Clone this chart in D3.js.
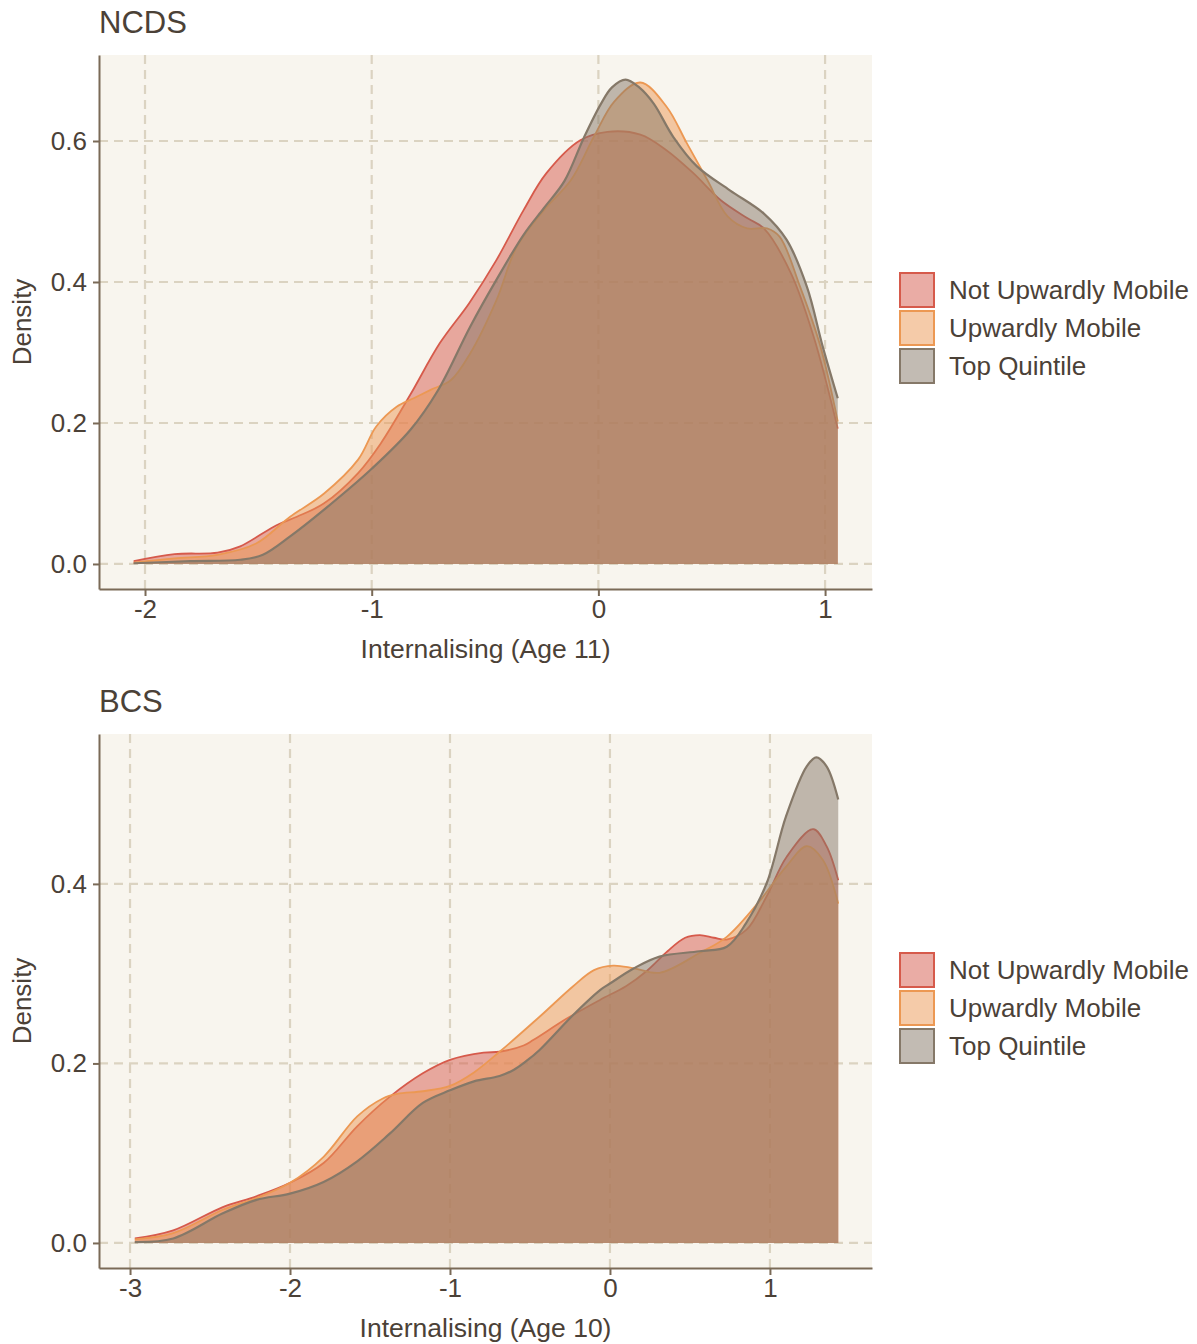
<!DOCTYPE html>
<html>
<head>
<meta charset="utf-8">
<script src="https://cdn.jsdelivr.net/npm/d3@7"></script>
<style>
  body { margin: 0; background: #ffffff; }
  text { font-family: "Liberation Sans", Arial, sans-serif; fill: #4b4137; }
</style>
</head>
<body>
<div id="main"></div>
<script>
const width = 1197;
const height = 1344;

const groups = ["Not Upwardly Mobile", "Upwardly Mobile", "Top Quintile"];

// NCDS densities, [score, density]
const ncdsNotUp = [[-2.05,0.004],[-1.87,0.014],[-1.68,0.016],[-1.58,0.025],[-1.42,0.055],[-1.33,0.067],[-1.21,0.086],[-1.06,0.129],[-0.96,0.171],[-0.83,0.24],[-0.70,0.313],[-0.57,0.37],[-0.45,0.431],[-0.33,0.502],[-0.23,0.554],[-0.08,0.601],[0.04,0.613],[0.185,0.609],[0.30,0.587],[0.42,0.554],[0.54,0.516],[0.66,0.49],[0.73,0.476],[0.85,0.412],[0.95,0.322],[1.056,0.192]];
const ncdsUp = [[-2.05,0.002],[-1.87,0.008],[-1.68,0.013],[-1.51,0.029],[-1.36,0.067],[-1.21,0.1],[-1.06,0.148],[-0.98,0.195],[-0.89,0.223],[-0.815,0.235],[-0.74,0.247],[-0.65,0.261],[-0.565,0.299],[-0.45,0.374],[-0.36,0.45],[-0.24,0.502],[-0.12,0.545],[-0.02,0.606],[0.07,0.656],[0.185,0.683],[0.30,0.649],[0.39,0.597],[0.48,0.545],[0.57,0.493],[0.656,0.476],[0.744,0.476],[0.80,0.464],[0.89,0.393],[0.98,0.308],[1.056,0.202]];
const ncdsTop = [[-2.05,0.001],[-1.80,0.004],[-1.58,0.006],[-1.48,0.013],[-1.36,0.039],[-1.21,0.077],[-1.0,0.135],[-0.83,0.19],[-0.71,0.245],[-0.565,0.337],[-0.45,0.403],[-0.33,0.467],[-0.24,0.505],[-0.15,0.543],[-0.065,0.604],[0.01,0.652],[0.06,0.676],[0.12,0.687],[0.18,0.676],[0.244,0.653],[0.33,0.606],[0.435,0.564],[0.58,0.53],[0.73,0.497],[0.83,0.46],[0.92,0.393],[0.99,0.308],[1.056,0.235]];

// BCS densities
const bcsNotUp = [[-2.97,0.005],[-2.73,0.014],[-2.42,0.04],[-2.21,0.052],[-2.0,0.067],[-1.79,0.089],[-1.58,0.13],[-1.375,0.163],[-1.17,0.189],[-1.0,0.204],[-0.79,0.212],[-0.69,0.213],[-0.54,0.22],[-0.48,0.226],[-0.27,0.25],[-0.06,0.271],[0.10,0.286],[0.23,0.303],[0.36,0.325],[0.47,0.34],[0.5625,0.343],[0.65,0.34],[0.729,0.338],[0.854,0.349],[0.979,0.386],[1.104,0.43],[1.27,0.461],[1.354,0.442],[1.427,0.404]];
const bcsUp = [[-2.97,0.004],[-2.73,0.011],[-2.42,0.037],[-2.21,0.05],[-2.0,0.067],[-1.79,0.096],[-1.58,0.141],[-1.42,0.161],[-1.33,0.166],[-1.17,0.169],[-1.0,0.175],[-0.85,0.19],[-0.69,0.213],[-0.44,0.252],[-0.23,0.286],[-0.10,0.304],[0.02,0.309],[0.15,0.306],[0.31,0.301],[0.56,0.323],[0.73,0.341],[0.94,0.382],[1.10,0.419],[1.23,0.442],[1.33,0.427],[1.427,0.378]];
const bcsTop = [[-2.97,0.001],[-2.73,0.005],[-2.42,0.033],[-2.21,0.048],[-2.0,0.055],[-1.79,0.068],[-1.58,0.091],[-1.375,0.122],[-1.17,0.156],[-1.0,0.17],[-0.85,0.18],[-0.69,0.186],[-0.6,0.193],[-0.52,0.203],[-0.44,0.215],[-0.23,0.254],[-0.06,0.282],[0.0,0.289],[0.15,0.306],[0.31,0.319],[0.56,0.325],[0.73,0.33],[0.85,0.356],[0.98,0.401],[1.10,0.475],[1.23,0.531],[1.29,0.541],[1.354,0.531],[1.427,0.494]];

const ncdsXTicks = [-2, -1, 0, 1];
const ncdsYTicks = [0, 0.2, 0.4, 0.6];
const bcsXTicks = [-3, -2, -1, 0, 1];
const bcsYTicks = [0, 0.2, 0.4];

const colors = ["#d65a4b", "#ec9853", "#857868"];
const panelBg = "#f8f5ee";
const gridColor = "#dbd3c1";
const axisColor = "#7a6a57";

const svg = d3.select("#main")
    .append("svg")
    .attr("width", width)
    .attr("height", height);

function drawPanel(opt) {
    const left = 99, right = 872;
    const top = opt.top, bottom = opt.top + 534;

    const xScale = d3.scaleLinear().domain(opt.xDomain).range([left, right]);
    const yScale = d3.scaleLinear().domain(opt.yDomain).range([bottom, top]);

    svg.append("text")
        .attr("x", left)
        .attr("y", top - 22)
        .style("font-size", "31px")
        .text(opt.title);

    svg.append("rect")
        .attr("x", left).attr("y", top)
        .attr("width", right - left).attr("height", bottom - top)
        .style("fill", panelBg);

    const grid = svg.append("g");
    grid.selectAll("line.v")
        .data(opt.xTicks)
        .enter()
        .append("line")
        .attr("x1", (d) => xScale(d)).attr("x2", (d) => xScale(d))
        .attr("y1", top).attr("y2", bottom);
    grid.selectAll("line.h")
        .data(opt.yTicks)
        .enter()
        .append("line")
        .attr("y1", (d) => yScale(d)).attr("y2", (d) => yScale(d))
        .attr("x1", left).attr("x2", right);
    grid.selectAll("line")
        .style("stroke", gridColor)
        .style("stroke-width", 2.2)
        .style("stroke-dasharray", "9,6");

    const area = d3.area()
        .x((d) => xScale(d[0]))
        .y0(yScale(0))
        .y1((d) => yScale(d[1]))
        .curve(d3.curveCatmullRom.alpha(0.5));
    const line = d3.line()
        .x((d) => xScale(d[0]))
        .y((d) => yScale(d[1]))
        .curve(d3.curveCatmullRom.alpha(0.5));

    opt.series.forEach((s, i) => {
        svg.append("path")
            .attr("d", area(s))
            .style("fill", colors[i])
            .style("fill-opacity", 0.5);
        svg.append("path")
            .attr("d", line(s))
            .style("fill", "none")
            .style("stroke", colors[i])
            .style("stroke-width", i == 2 ? 2.2 : 1.8);
    });

    const xAxis = d3.axisBottom(xScale)
        .tickValues(opt.xTicks)
        .tickSizeInner(7)
        .tickSizeOuter(0)
        .tickPadding(4)
        .tickFormat((d) => String(d));
    const gx = svg.append("g")
        .attr("transform", "translate(0," + bottom + ")")
        .call(xAxis);

    const yAxis = d3.axisLeft(yScale)
        .tickValues(opt.yTicks)
        .tickSizeInner(6)
        .tickSizeOuter(0)
        .tickPadding(6)
        .tickFormat((d) => d.toFixed(1));
    const gy = svg.append("g")
        .attr("transform", "translate(" + left + ",0)")
        .call(yAxis);

    [gx, gy].forEach((g) => {
        g.select(".domain").style("stroke", axisColor).style("stroke-width", 2);
        g.selectAll(".tick line").style("stroke", axisColor).style("stroke-width", 2);
        g.selectAll(".tick text")
            .style("font-size", "26px")
            .style("font-family", "'Liberation Sans', Arial, sans-serif")
            .style("fill", "#4b4137");
    });
    gx.selectAll(".tick text").attr("dy", "0.7em");

    svg.append("text")
        .attr("x", (left + right) / 2)
        .attr("y", bottom + 69)
        .attr("text-anchor", "middle")
        .style("font-size", "26.5px")
        .text(opt.xTitle);

    svg.append("text")
        .attr("transform", "translate(31," + (top + bottom) / 2 + ") rotate(-90)")
        .attr("text-anchor", "middle")
        .style("font-size", "26px")
        .text("Density");

    const legend = svg.append("g")
        .attr("transform", "translate(899," + opt.legendTop + ")");
    groups.forEach((name, i) => {
        legend.append("rect")
            .attr("x", 1).attr("y", i * 38 + 1)
            .attr("width", 34).attr("height", 34)
            .style("fill", colors[i])
            .style("fill-opacity", 0.5)
            .style("stroke", colors[i])
            .style("stroke-width", 2);
        legend.append("text")
            .attr("x", 50)
            .attr("y", i * 38 + 18)
            .attr("dy", "0.36em")
            .style("font-size", "26px")
            .text(name);
    });
}

drawPanel({
    title: "NCDS",
    top: 55,
    xDomain: [-2.203, 1.207],
    yDomain: [-0.0355, 0.722],
    xTicks: ncdsXTicks,
    yTicks: ncdsYTicks,
    series: [ncdsNotUp, ncdsUp, ncdsTop],
    xTitle: "Internalising (Age 11)",
    legendTop: 272
});

drawPanel({
    title: "BCS",
    top: 734,
    xDomain: [-3.194, 1.638],
    yDomain: [-0.0279, 0.567],
    xTicks: bcsXTicks,
    yTicks: bcsYTicks,
    series: [bcsNotUp, bcsUp, bcsTop],
    xTitle: "Internalising (Age 10)",
    legendTop: 952
});
</script>
</body>
</html>
